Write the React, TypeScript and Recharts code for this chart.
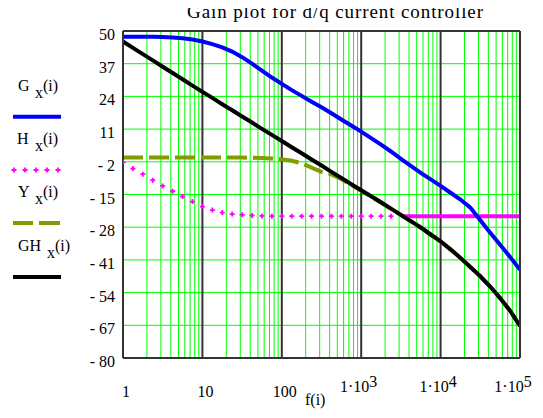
import React from 'react';
import { LineChart, Line, XAxis, YAxis, CartesianGrid, ReferenceLine } from 'recharts';

// frequency samples (Hz), 8 per decade
const FREQ = [
  1, 1.334, 1.778, 2.371, 3.162, 4.217, 5.623, 7.499,
  10, 13.34, 17.78, 23.71, 31.62, 42.17, 56.23, 74.99,
  100, 133.4, 177.8, 237.1, 316.2, 421.7, 562.3, 749.9,
  1000, 1334, 1778, 2371, 3162, 4217, 5623, 7499,
  10000, 13340, 17780, 23710, 31620, 42170, 56230, 74990,
  100000,
];

// gains in dB
const G_DB = [
  47.7, 47.7, 47.7, 47.7, 47.6, 47.4, 47.1, 46.6,
  45.8, 44.8, 43.5, 41.8, 39.6, 37.0, 34.2, 31.5,
  29.0, 26.5, 24.2, 21.9, 19.7, 17.3, 14.8, 12.4,
  10.0, 7.4, 4.8, 2.1, -0.8, -3.6, -6.4, -9.0,
  -11.6, -14.3, -17.0, -20.2, -25.2, -30.2, -35.0, -39.8,
  -44.9,
];
const H_DB = [
  -2.2, -4.7, -6.9, -9.3, -11.6, -13.7, -15.8, -17.8,
  -19.8, -21.2, -22.2, -22.8, -23.1, -23.3, -23.5, -23.6,
  -23.6, -23.6, -23.6, -23.6, -23.6, -23.6, -23.6, -23.6,
  -23.6, -23.6, -23.6, -23.6, -23.6, -23.6, -23.6, -23.6,
  -23.6, -23.6, -23.6, -23.6, -23.6, -23.6, -23.6, -23.6,
  -23.6,
];
const Y_DB = [
  -0.3, -0.3, -0.3, -0.3, -0.3, -0.3, -0.3, -0.3,
  -0.3, -0.3, -0.3, -0.3, -0.3, -0.4, -0.5, -0.7,
  -1.0, -1.6, -2.6, -4.3, -6.0, -7.0, -8.9, -11.2,
  -13.5, -15.9, -18.3, -20.7, -23.2, -25.7, -28.2, -31.0,
  -33.7, -36.9, -40.3, -43.9, -47.6, -51.7, -56.3, -61.3,
  -67.3,
];
const GH_DB = [
  45.8, 43.3, 40.8, 38.3, 35.8, 33.3, 30.8, 28.3,
  25.8, 23.4, 20.9, 18.5, 16.0, 13.6, 11.1, 8.7,
  6.3, 3.8, 1.4, -1.1, -3.5, -6.0, -8.4, -10.9,
  -13.3, -15.7, -18.1, -20.6, -23.1, -25.6, -28.1, -30.9,
  -33.6, -36.8, -40.2, -43.8, -47.5, -51.6, -56.2, -61.2,
  -67.2,
];

// H is drawn as dots below this frequency and as a solid trace above it
const H_SOLID_FROM = 3162;

const Y_TICKS = [50, 37, 24, 11, -2, -15, -28, -41, -54, -67, -80];
const X_TICKS = [1, 10, 100, 1000, 10000, 100000];
const X_TICK_MAIN = ['1', '10', '100', '1·10', '1·10', '1·10'];
const X_TICK_EXP = ['', '', '', '3', '4', '5'];
const DECADES = [1, 10, 100, 1000, 10000];
const MULTIPLIERS = [2, 3, 4, 5, 6, 7, 8, 9];
const MINOR_GRID = DECADES.flatMap((d) => MULTIPLIERS.map((m) => d * m));
const MAJOR_GRID = [10, 100, 1000, 10000];

const TITLE = 'Gain plot for d/q current controller';
const X_LABEL = 'f(i)';

const series = (vals: number[]) => FREQ.map((f, i) => ({ f, v: vals[i] }));
const gData = series(G_DB);
const yData = series(Y_DB);
const ghData = series(GH_DB);
const hAll = series(H_DB);
const hDots = hAll.filter((d) => d.f < H_SOLID_FROM);
const hSolid = hAll.filter((d) => d.f >= H_SOLID_FROM);

const FONT = '"Liberation Serif", "Times New Roman", serif';
const GREEN = '#00ff00';
const GRID_DARK = '#333333';
const BLUE = '#0000ff';
const MAGENTA = '#ff00ff';
const OLIVE = '#859a00';

const PlusDot = (props: any) => {
  const { cx, cy, index } = props;
  if (cx == null || cy == null) return <g key={`p${index}`} />;
  return (
    <path
      key={`p${index}`}
      d={`M${cx - 2.5},${cy}h5M${cx},${cy - 2.5}v5`}
      stroke={MAGENTA}
      strokeWidth={1.8}
      fill="none"
    />
  );
};

const XTick = (props: any) => {
  const { x, y, payload } = props;
  const i = X_TICKS.indexOf(payload.value);
  const main = X_TICK_MAIN[i] ?? String(payload.value);
  const exp = X_TICK_EXP[i] ?? '';
  if (!exp) {
    return (
      <text x={x + 3} y={y + 39} textAnchor="middle" fontFamily={FONT} fontSize={16} fill="#000">
        {main}
      </text>
    );
  }
  const cx = Math.min(x - 2.5, 505);
  return (
    <text x={cx} y={y + 34} textAnchor="middle" fontFamily={FONT} fontSize={16} fill="#000">
      {main}
      <tspan dy={-5}>{exp}</tspan>
    </text>
  );
};

const YTick = (props: any) => {
  const { x, y, payload } = props;
  const v = payload.value as number;
  const label = v < 0 ? `- ${-v}` : String(v);
  return (
    <text x={x} y={y + 9} textAnchor="end" fontFamily={FONT} fontSize={16} fill="#000">
      {label}
    </text>
  );
};

const Overlay = () => (
  <svg
    width={543}
    height={418}
    style={{ position: 'absolute', left: -8, top: -8, pointerEvents: 'none' }}
  >
    <text
      x={187}
      y={18}
      fontFamily={FONT}
      fontSize={19}
      textLength={296}
      lengthAdjust="spacing"
      fill="#000"
    >
      {TITLE}
    </text>
    <text x={305} y={405} fontFamily={FONT} fontSize={16} fill="#000">
      {X_LABEL}
    </text>
    {/* legend */}
    <g fontFamily={FONT} fontSize={16} fill="#000">
      <text x={18} y={91}>G</text>
      <text x={35} y={98}>x</text>
      <text x={43} y={91}>(i)</text>

      <text x={17} y={144}>H</text>
      <text x={35} y={151}>x</text>
      <text x={43} y={144}>(i)</text>

      <text x={18} y={197}>Y</text>
      <text x={35} y={204}>x</text>
      <text x={43} y={197}>(i)</text>

      <text x={18} y={251}>GH</text>
      <text x={47} y={258}>x</text>
      <text x={55} y={251}>(i)</text>
    </g>
    <line x1={13} x2={61} y1={116.7} y2={116.7} stroke={BLUE} strokeWidth={4} />
    {[14, 25, 36, 47, 58].map((px) => (
      <path key={px} d={`M${px - 2.5},170h5M${px},167.5v5`} stroke={MAGENTA} strokeWidth={1.8} />
    ))}
    <line x1={13} x2={33} y1={223} y2={223} stroke={OLIVE} strokeWidth={4} />
    <line x1={39} x2={60} y1={223} y2={223} stroke={OLIVE} strokeWidth={4} />
    <line x1={13} x2={61} y1={277} y2={277} stroke="#000" strokeWidth={4} />
  </svg>
);

export default function App() {
  return (
    <div style={{ position: 'relative', width: 527, height: 402 }}>
      <LineChart
        width={527}
        height={402}
        margin={{ top: 23, right: 15, left: 0, bottom: 0 }}
      >
        <XAxis
          dataKey="f"
          type="number"
          scale="log"
          domain={[1, 100000]}
          ticks={X_TICKS}
          interval={0}
          allowDataOverflow
          axisLine={false}
          tickLine={false}
          tickSize={0}
          tickMargin={0}
          height={52}
          tick={<XTick />}
        />
        <YAxis
          type="number"
          domain={[-80, 50]}
          ticks={Y_TICKS}
          interval={0}
          allowDataOverflow
          axisLine={false}
          tickLine={false}
          tickSize={0}
          tickMargin={8}
          width={115}
          tick={<YTick />}
        />
        <CartesianGrid vertical={false} stroke={GREEN} strokeWidth={1} strokeDasharray="" />
        {MINOR_GRID.map((v) => (
          <ReferenceLine key={`m${v}`} x={v} stroke={GREEN} strokeWidth={1} />
        ))}
        {MAJOR_GRID.map((v) => (
          <ReferenceLine key={`M${v}`} x={v} stroke={GRID_DARK} strokeWidth={2} />
        ))}
        <Line
          data={hDots}
          dataKey="v"
          stroke="none"
          dot={PlusDot}
          activeDot={false}
          isAnimationActive={false}
        />
        <Line
          data={hSolid}
          dataKey="v"
          stroke={MAGENTA}
          strokeWidth={4}
          dot={false}
          activeDot={false}
          isAnimationActive={false}
        />
        <Line
          data={yData}
          dataKey="v"
          stroke={OLIVE}
          strokeWidth={4}
          strokeDasharray="20 6"
          dot={false}
          activeDot={false}
          isAnimationActive={false}
        />
        <Line
          data={gData}
          dataKey="v"
          stroke={BLUE}
          strokeWidth={4}
          dot={false}
          activeDot={false}
          isAnimationActive={false}
        />
        <Line
          data={ghData}
          dataKey="v"
          stroke="#000"
          strokeWidth={4}
          dot={false}
          activeDot={false}
          isAnimationActive={false}
        />
        <ReferenceLine x={1} stroke={GRID_DARK} strokeWidth={2} />
        <ReferenceLine x={100000} stroke={GRID_DARK} strokeWidth={2} />
        <ReferenceLine y={50} stroke={GRID_DARK} strokeWidth={2} />
        <ReferenceLine y={-80} stroke={GRID_DARK} strokeWidth={2} />
      </LineChart>
      <Overlay />
    </div>
  );
}
